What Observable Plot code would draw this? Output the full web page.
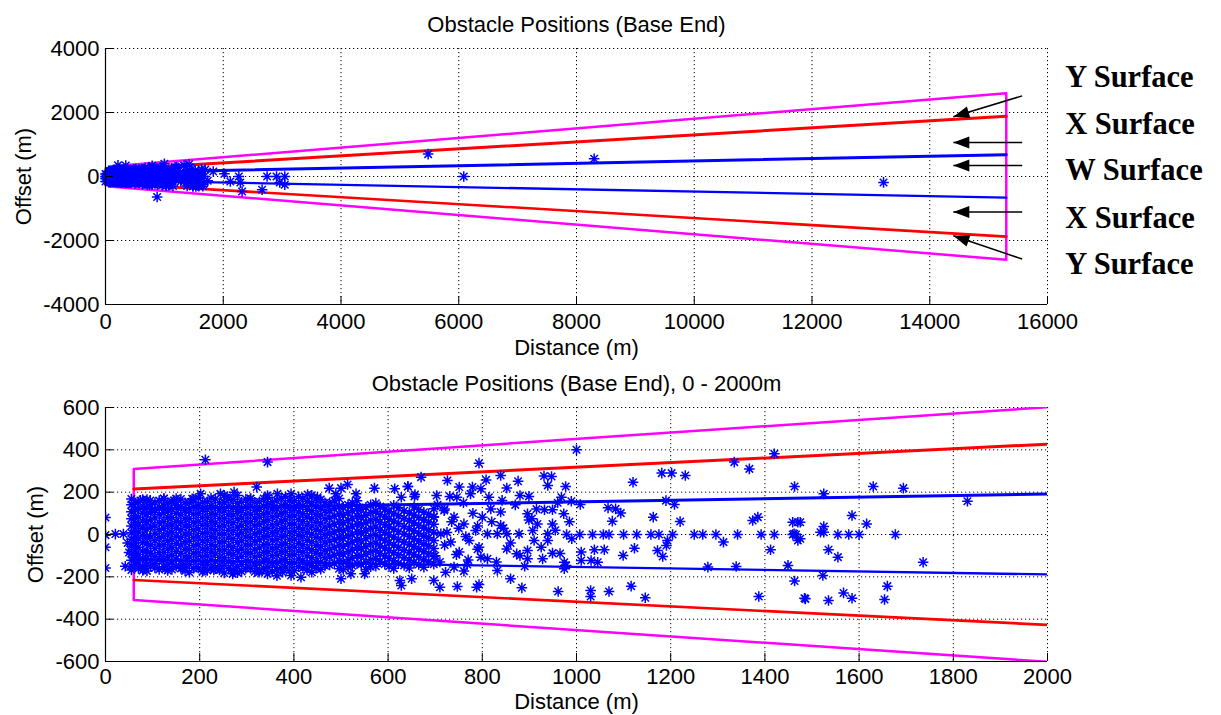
<!DOCTYPE html>
<html><head><meta charset="utf-8">
<script src="https://cdn.jsdelivr.net/npm/d3@7"></script>
<script src="https://cdn.jsdelivr.net/npm/@observablehq/plot@0.6"></script>
<style>
html,body{margin:0;padding:0;background:#fff;}
#chart{width:1221px;height:715px;overflow:hidden;}
#chart svg{display:block;}
</style></head>
<body><div id="chart"></div>
<script>
// ---------------- data ----------------
const titleTop = "Obstacle Positions (Base End)";
const titleBottom = "Obstacle Positions (Base End), 0 - 2000m";
const xLabel = "Distance (m)";
const yLabel = "Offset (m)";

const xTicksTop = [0, 2000, 4000, 6000, 8000, 10000, 12000, 14000, 16000];
const yTicksTop = [-4000, -2000, 0, 2000, 4000];
const xTicksBottom = [0, 200, 400, 600, 800, 1000, 1200, 1400, 1600, 1800, 2000];
const yTicksBottom = [-600, -400, -200, 0, 200, 400, 600];

// surfaces [distance, offset]
const ySurfaceOutline = [[60, 310], [15300, 2600], [15300, -2600], [60, -310], [60, 310]];
const xSurfaceUpper = [[60, 215], [15300, 1880]];
const xSurfaceLower = [[60, -215], [15300, -1880]];
const wSurfaceUpper = [[60, 120], [15300, 680]];
const wSurfaceLower = [[60, -120], [15300, -660]];

// annotation labels and arrows (data units of the upper panel)
const surfaceLabels = ["Y Surface", "X Surface", "W Surface", "X Surface", "Y Surface"];
const surfaceLabelOffsets = [3110, 1640, 210, -1290, -2730];
const arrowFrom = [[15570, 2520], [15570, 1063], [15570, 344], [15570, -1113], [15570, -2580]];
const arrowTo = [[14400, 1866], [14400, 1063], [14400, 344], [14400, -1113], [14400, -1853]];

// obstacles below the threshold
const obstaclesEdge = [[0,80],[0,-3],[0,-60],[0,-158],[21,2],[38,2],[42,-150],[47,-40],[50,-85]];

// dense core of obstacles, listed by distance column
const denseColumnX = [55,70,88,105,124,141,160,178,197,216,233,252,271,289,308,327,345,364,382,401,419,438,457,476,496,515,534,553,574,593,612,634,655,676,697];
const denseColumnY = [
  [168,140,108,75,40,8,-22,-55,-90,-122,-150,-168],
  [152,120,82,45,12,-20,-60,-95,-130,-160],
  [165,130,96,60,25,-8,-42,-78,-112,-145,-172],
  [150,115,78,40,5,-30,-66,-104,-138,-158],
  [170,135,100,62,28,-10,-48,-85,-120,-152],
  [155,118,80,45,10,-25,-62,-98,-135,-165],
  [168,132,95,58,22,-14,-50,-88,-125,-160],
  [150,112,76,40,4,-32,-70,-106,-142,-178],
  [172,136,98,62,26,-12,-48,-86,-122,-158],
  [155,118,80,44,8,-28,-66,-102,-140,-170],
  [168,130,94,56,20,-16,-54,-90,-128,-162],
  [185,150,112,76,40,2,-34,-72,-110,-146,-182],
  [165,128,92,55,18,-20,-58,-94,-132,-168],
  [152,115,78,42,6,-30,-68,-104,-142,-175],
  [170,134,96,60,24,-14,-50,-88,-126,-160],
  [155,118,82,46,10,-26,-64,-100,-138,-172],
  [175,140,102,66,28,-8,-46,-82,-120,-155],
  [158,122,86,48,12,-24,-62,-98,-136,-168,-195],
  [178,142,104,68,30,-6,-44,-80,-118,-154],
  [160,124,88,50,14,-22,-60,-96,-134,-170],
  [172,136,98,62,26,-10,-48,-84,-122,-158],
  [185,150,112,76,40,2,-34,-72,-110,-146,-178],
  [165,128,92,54,18,-18,-56,-92,-130,-164],
  [150,114,78,40,4,-32,-70,-106,-144],
  [170,132,96,58,22,-16,-52,-90,-126,-162],
  [140,104,66,30,-6,-44,-80,-118,-150],
  [160,122,86,48,12,-26,-62,-100,-138],
  [128,90,54,16,-20,-58,-94,-132,-165],
  [148,110,72,36,-2,-40,-76,-114,-150],
  [120,84,46,10,-28,-64,-102,-140],
  [138,100,64,26,-12,-50,-86,-124,-160],
  [112,76,38,2,-36,-74,-110,-146],
  [130,92,56,18,-20,-56,-94,-132],
  [105,68,30,-8,-46,-82,-120,-155],
  [122,84,48,10,-28,-66,-104,-140]
];
// second, interleaved set of dense-core columns
const denseColumnX2 = [63,79,96,114,132,150,169,187,206,224,242,261,280,298,317,336,354,373,391,410,428,447,466,486,505,524,543,563,583,602,622,645,665,686];
const denseColumnY2 = [
  [150,118,88,55,20,-12,-40,-72,-108,-140],
  [165,135,100,64,30,-5,-38,-78,-112,-148,-170],
  [140,108,70,35,-12,-48,-88,-122,-150],
  [160,130,96,58,22,-14,-50,-86,-120,-165],
  [150,115,80,44,6,-30,-66,-104,-140,-170],
  [170,138,100,62,28,-8,-44,-80,-116,-150],
  [150,112,76,40,2,-34,-70,-106,-142,-172],
  [168,132,96,58,22,-14,-52,-88,-124,-160],
  [152,116,80,44,6,-30,-68,-104,-140,-175],
  [172,136,98,62,26,-10,-48,-84,-120,-158],
  [150,112,76,38,2,-36,-72,-108,-146,-168],
  [168,132,94,58,20,-16,-54,-90,-128,-162],
  [184,148,110,74,36,0,-38,-76,-112,-150,-180],
  [168,132,96,60,24,-12,-50,-86,-124,-160],
  [152,114,78,42,4,-32,-70,-106,-144,-176],
  [170,134,98,62,26,-10,-48,-84,-120,-158],
  [155,120,84,46,10,-26,-64,-100,-138,-174],
  [172,136,100,64,28,-8,-46,-82,-120,-156],
  [160,122,86,50,12,-24,-62,-98,-136,-170],
  [178,142,106,70,32,-4,-42,-78,-116,-152],
  [156,118,82,44,8,-28,-66,-102,-140,-168],
  [168,132,94,58,22,-14,-52,-88,-126,-160],
  [150,112,74,36,0,-36,-74,-110,-148],
  [160,122,86,48,12,-24,-62,-98,-136],
  [128,92,56,18,-18,-56,-92,-130,-165],
  [150,112,76,38,0,-36,-74,-112,-148],
  [120,84,48,10,-28,-64,-102,-140],
  [140,104,68,30,-6,-44,-80,-118,-152],
  [132,94,58,20,-16,-54,-90,-128],
  [108,72,36,-2,-38,-76,-112,-150],
  [126,88,52,14,-24,-60,-96,-136],
  [100,64,26,-10,-48,-86,-122,-158],
  [118,80,44,6,-30,-68,-106,-142],
  [96,58,22,-14,-52,-90,-128]
];

// scattered obstacles around the dense core
const obstaclesFringe = [[212,353],[344,342],[321,224],[514,236],[500,219],[475,219],[571,219],[532,192],[489,192],[614,216],[642,227],[628,176],[657,189],[625,-217],[628,-241],[650,-209],[500,-209],[521,-186],[550,-186],[415,-202],[394,-194],[376,-178],[344,-186],[326,-178],[273,-173],[270,-186],[230,-167],[209,-170],[163,-157],[127,-162],[81,-162],[124,169],[145,161],[184,169],[202,192],[244,192],[258,176],[273,200],[308,169],[344,184],[365,192],[394,192],[429,189],[450,176],[74,161],[95,161]];

// obstacles 650 - 1050 m
const obstaclesMid = [[670,271],[726,255],[751,224],[779,224],[797,216],[808,258],[793,337],[839,279],[852,220],[876,252],[931,276],[947,274],[939,232],[977,227],[880,184],[899,180],[642,227],[656,180],[703,184],[731,180],[746,176],[775,192],[814,176],[842,161],[968,176],[989,157],[1008,142],
[896,98],[899,69],[932,117],[949,117],[973,98],[949,50],[917,50],[907,19],[939,3],[910,-28],[939,-28],[949,-88],[896,-76],[896,-115],[928,-115],[873,-91],[852,-68],[878,3],[852,3],[832,3],[811,3],[786,19],[772,-28],[793,-60],[839,43],[839,106],[818,121],[800,82],[761,50],[740,82],[719,113],[697,82],[712,3],[733,-36],[751,-83],[797,-107],[811,-115],[832,-170],[860,-209],[884,-252],[793,-236],[788,-249],[747,-246],[710,-249],[697,-217],[722,-178],[761,-173],[740,-154],[768,-142],[978,-146],[1010,-123],[1031,-123],[1010,-83],[1045,-131],
[705,140],[720,120],[735,60],[750,30],[765,-10],[720,-50],[745,-95],[770,-120],[710,-130],[760,150],[780,100],[790,-70],[725,10],[700,-100],[790,40],[820,60],[845,30],[860,-40],[880,-100],[905,75],[925,-60],[955,20],[965,-90],[985,60],[830,-130],[870,140],[890,-150],[915,120],[960,150],[990,-20]];

// obstacles 950 - 2000 m
const obstaclesOuter = [[1000,400],[1120,247],[1181,290],[1202,290],[1231,279],[1335,342],[1367,310],[1420,381],[1463,227],[1067,126],[1083,121],[1094,101],[1076,63],[1163,82],[1220,61],[1374,66],[1385,82],[1459,58],[1470,58],[1462,3],[1470,-28],[1190,160],[1208,142],
[979,0],[1007,0],[1034,0],[1057,0],[1069,0],[1100,0],[1128,0],[1158,0],[1175,0],[1204,0],[1250,0],[1268,0],[1296,0],[1342,0],[1392,0],[1420,0],[1459,0],[1466,0],
[1312,-36],[1412,-72],[1038,-72],[1059,-72],[1099,-99],[1123,-65],[1172,-76],[1191,-52],[1193,-28],[1183,-104],[1279,-154],[1339,-151],[1449,-146],[974,-162],[974,-131],[1463,-220],[1387,-293],[1486,-304],[1146,-299],[1069,-269],[1030,-265],[1030,-293],[961,-269],[1116,-244],
[1525,192],[1630,227],[1694,219],[1830,157],[1585,90],[1616,50],[1525,38],[1525,11],[1518,11],[1555,0],[1578,0],[1600,0],[1677,0],[1535,-72],[1555,-107],[1736,-131],[1523,-194],[1567,-276],[1585,-301],[1535,-312],[1484,-301],[1660,-244],[1654,-307],[1475,58],[1475,-20]];

// obstacles beyond 2000 m (or beyond the lower panel's range)
const obstaclesFar = [[2020,85],[2120,-155],[2265,0],[2290,-190],[2320,-470],[2660,-415],[2745,0],[2905,0],[2960,-185],[3045,0],[3045,-260],[877,-640],[5480,700],[6085,0],[8300,555],[13215,-185]];

// ---------------- build ----------------
const obstacles = [];
for (const p of obstaclesEdge) obstacles.push(p);
denseColumnX.forEach((x, i) => denseColumnY[i].forEach(y => obstacles.push([x, y])));
denseColumnX2.forEach((x, i) => denseColumnY2[i].forEach(y => obstacles.push([x, y])));
for (const arr of [obstaclesFringe, obstaclesMid, obstaclesOuter, obstaclesFar]) for (const p of arr) obstacles.push(p);

const blue = "#0000ff", red = "#ff0000", magenta = "#ff00ff";
const W = 1221;

const asterisk = {
  draw(ctx, size) {
    const r = Math.sqrt(size / Math.PI), d = r * Math.SQRT1_2;
    ctx.moveTo(-r, 0); ctx.lineTo(r, 0);
    ctx.moveTo(0, -r); ctx.lineTo(0, r);
    ctx.moveTo(-d, -d); ctx.lineTo(d, d);
    ctx.moveTo(-d, d); ctx.lineTo(d, -d);
  }
};
const arrowHead = {
  draw(ctx) {
    ctx.moveTo(0, 0); ctx.lineTo(-6, 16); ctx.lineTo(6, 16); ctx.closePath();
  }
};

function panel({title, xDomain, yDomain, xTicks, yTicks, layout, xTickPad, xLabelDy, yLabelDx, clip, extra = []}) {
  const plotH = layout.height - layout.marginTop - layout.marginBottom;
  const plotW = W - layout.marginLeft - layout.marginRight;
  const line = (pts, stroke, sw) => Plot.line(pts, {x: d => d[0], y: d => d[1], stroke, strokeWidth: sw, clip});
  const grid = {stroke: "#000", strokeOpacity: 1, strokeWidth: 1, strokeDasharray: "1.2,2.8"};
  return Plot.plot({
    width: W, ...layout,
    x: {domain: xDomain}, y: {domain: yDomain},
    style: {fontFamily: "'Liberation Sans', Arial, sans-serif", fontSize: "22px", color: "#000", background: "#fff", overflow: "visible"},
    marks: [
      Plot.gridX(xTicks, grid),
      Plot.gridY(yTicks, grid),
      line(ySurfaceOutline, magenta, 2.5),
      line(xSurfaceUpper, red, 3),
      line(xSurfaceLower, red, 2.6),
      line(wSurfaceUpper, blue, 3),
      line(wSurfaceLower, blue, 2.3),
      Plot.dot(obstacles, {x: d => d[0], y: d => d[1], symbol: asterisk, r: 5.3, stroke: blue, fill: "none", strokeWidth: 1.5, clip}),
      Plot.ruleX([xDomain[0]], {stroke: "#000", strokeWidth: 1.2}),
      Plot.ruleY([yDomain[0]], {stroke: "#000", strokeWidth: 1.2}),
      Plot.tickX(xTicks, {x: d => d, stroke: "#000", insetTop: plotH - 8}),
      Plot.tickY(yTicks, {y: d => d, stroke: "#000", insetRight: plotW - 8}),
      Plot.axisX(xTicks, {tickSize: 0, tickPadding: xTickPad, tickFormat: d => String(d), label: null}),
      Plot.axisY(yTicks, {tickSize: 0, tickPadding: 6, tickFormat: d => String(d), label: null}),
      Plot.text([title], {text: d => d, frameAnchor: "top", lineAnchor: "middle", dy: -24}),
      Plot.text([xLabel], {text: d => d, frameAnchor: "bottom", lineAnchor: "middle", dy: xLabelDy}),
      Plot.text([yLabel], {text: d => d, frameAnchor: "left", textAnchor: "middle", lineAnchor: "middle", dx: yLabelDx, rotate: -90}),
      ...extra
    ]
  });
}

const topLayout = {height: 360, marginTop: 48, marginBottom: 56, marginLeft: 105, marginRight: 174};
const botLayout = {height: 355, marginTop: 47, marginBottom: 54, marginLeft: 105, marginRight: 174};

// pixel-per-unit of the upper panel, to orient the arrow heads
const kx = (W - topLayout.marginLeft - topLayout.marginRight) / 16000;
const ky = (topLayout.height - topLayout.marginTop - topLayout.marginBottom) / 8000;
const arrows = arrowFrom.map((f, i) => {
  const t = arrowTo[i];
  const dxp = (t[0] - f[0]) * kx, dyp = -(t[1] - f[1]) * ky;
  return {x1: f[0], y1: f[1], x2: t[0], y2: t[1], angle: Math.atan2(dxp, -dyp) * 180 / Math.PI};
});
const labels = surfaceLabels.map((s, i) => ({text: s, y: surfaceLabelOffsets[i]}));

const topExtra = [
  Plot.link(arrows, {x1: "x1", y1: "y1", x2: "x2", y2: "y2", stroke: "#000", strokeWidth: 1.5}),
  Plot.dot(arrows, {x: "x2", y: "y2", symbol: arrowHead, r: 5, fill: "#000", stroke: "none", rotate: "angle"}),
  Plot.text(labels, {x: () => 16300, y: "y", text: "text", textAnchor: "start", fontFamily: "'Liberation Serif', 'Times New Roman', serif", fontWeight: "bold", fontSize: 30.5})
];

const topChart = panel({title: titleTop, xDomain: [0, 16000], yDomain: [-4000, 4000], xTicks: xTicksTop, yTicks: yTicksTop, layout: topLayout, xTickPad: 9, xLabelDy: 43, yLabelDx: -82, clip: false, extra: topExtra});
const bottomChart = panel({title: titleBottom, xDomain: [0, 2000], yDomain: [-600, 600], xTicks: xTicksBottom, yTicks: yTicksBottom, layout: botLayout, xTickPad: 7, xLabelDy: 40, yLabelDx: -70, clip: true});

const host = document.getElementById("chart");
host.appendChild(topChart);
host.appendChild(bottomChart);
</script>
</body></html>
